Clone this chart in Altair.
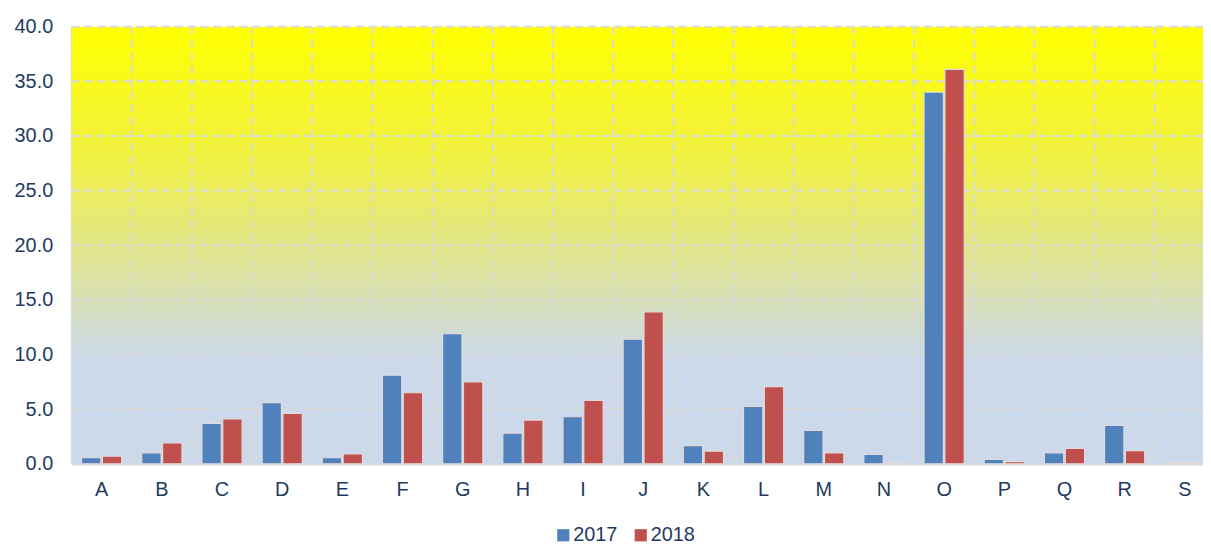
import altair as alt
import pandas as pd

categories = list("ABCDEFGHIJKLMNOPQRS")
v2017 = [0.55, 1.0, 3.7, 5.6, 0.55, 8.1, 11.9, 2.8, 4.3, 11.4, 1.65, 5.25, 3.05, 0.85, 34.0, 0.4, 1.0, 3.5, 0.1]
v2018 = [0.7, 1.9, 4.1, 4.6, 0.9, 6.5, 7.5, 4.0, 5.8, 13.9, 1.15, 7.05, 1.0, 0.05, 36.1, 0.2, 1.4, 1.2, 0.05]
series = ["2017", "2018"]
colors = ["#4F81BD", "#C0504D"]
y_ticks = [0, 5, 10, 15, 20, 25, 30, 35, 40]

rows = []
for c, a, b in zip(categories, v2017, v2018):
    rows.append({"cat": c, "year": "2017", "value": a})
    rows.append({"cat": c, "year": "2018", "value": b})
df = pd.DataFrame(rows)

W, H = 1139, 440
XR = 1151  # x range extends past the visible edge (the reference is cropped at right)
label_color = "#1F3A60"
font = "Liberation Sans"
grid_color = "#D9D9D9"
dash = [8, 5]

grad = alt.LinearGradient(
    gradient="linear", x1=0, y1=0, x2=0, y2=1,
    stops=[
        alt.GradientStop(offset=0, color="#FFFF00"),
        alt.GradientStop(offset=0.3, color="#F1F143"),
        alt.GradientStop(offset=0.55, color="#DEE39A"),
        alt.GradientStop(offset=0.76, color="#CBD9EB"),
        alt.GradientStop(offset=1, color="#CBD9EB"),
    ],
)

xscale = alt.Scale(domain=categories, paddingInner=0, paddingOuter=0, range=[0, XR])
yscale = alt.Scale(domain=[0, 40], nice=False)

x_axis = alt.Axis(title=None, labelAngle=0, grid=False, bandPosition=0.5,
                  ticks=False, domainColor=grid_color, domainWidth=2.5,
                  labelPadding=16, labelFontSize=20, labelColor=label_color,
                  labelFont=font)
y_axis = alt.Axis(title=None, values=y_ticks, format=".1f",
                  grid=False, ticks=False, domainColor=grid_color, domainWidth=2.5,
                  labelPadding=19, labelFontSize=20, labelColor=label_color,
                  labelFont=font)

bg = alt.Chart(pd.DataFrame({"a": [0]})).mark_rect(color=grad).encode(
    x=alt.value(0), x2=alt.value(XR), y=alt.value(0), y2=alt.value(H)
)

hgrid = alt.Chart(pd.DataFrame({"v": y_ticks[1:]})).mark_rule(
    color=grid_color, strokeWidth=2, strokeDash=dash
).encode(y=alt.Y("v:Q", scale=yscale, axis=y_axis, title=None), x=alt.value(0), x2=alt.value(XR))

vgrid = alt.Chart(pd.DataFrame({"cat": categories[1:]})).mark_rule(
    color=grid_color, strokeWidth=2, strokeDash=dash
).encode(x=alt.X("cat:N", scale=xscale, sort=categories, bandPosition=0, axis=x_axis, title=None),
         y=alt.value(0), y2=alt.value(H))

bars = alt.Chart(df).mark_bar(stroke="#E2DADA", strokeWidth=1.2).encode(
    x=alt.X("cat:N", scale=xscale, sort=categories, axis=x_axis, title=None),
    xOffset=alt.XOffset("year:N", scale=alt.Scale(paddingInner=0.071, paddingOuter=0.479)),
    y=alt.Y("value:Q", scale=yscale, axis=y_axis, title=None),
    color=alt.Color("year:N", scale=alt.Scale(domain=series, range=colors),
                    legend=alt.Legend(title=None, orient="none", direction="horizontal",
                                      legendX=485, legendY=502, symbolType="square",
                                      symbolSize=150, symbolStrokeWidth=0,
                                      labelFontSize=20, labelColor=label_color, labelFont=font,
                                      columnPadding=13, labelOffset=0)),
)

chart = alt.layer(bg, hgrid, vgrid, bars).resolve_scale(x="shared", y="shared").properties(
    width=W, height=H,
    autosize=alt.AutoSizeParams(type="none"),
    padding={"left": 64, "top": 17, "right": 0, "bottom": 81},
).configure_view(stroke=None)

chart.save("out.html", embed_options={"renderer": "svg", "actions": False})
